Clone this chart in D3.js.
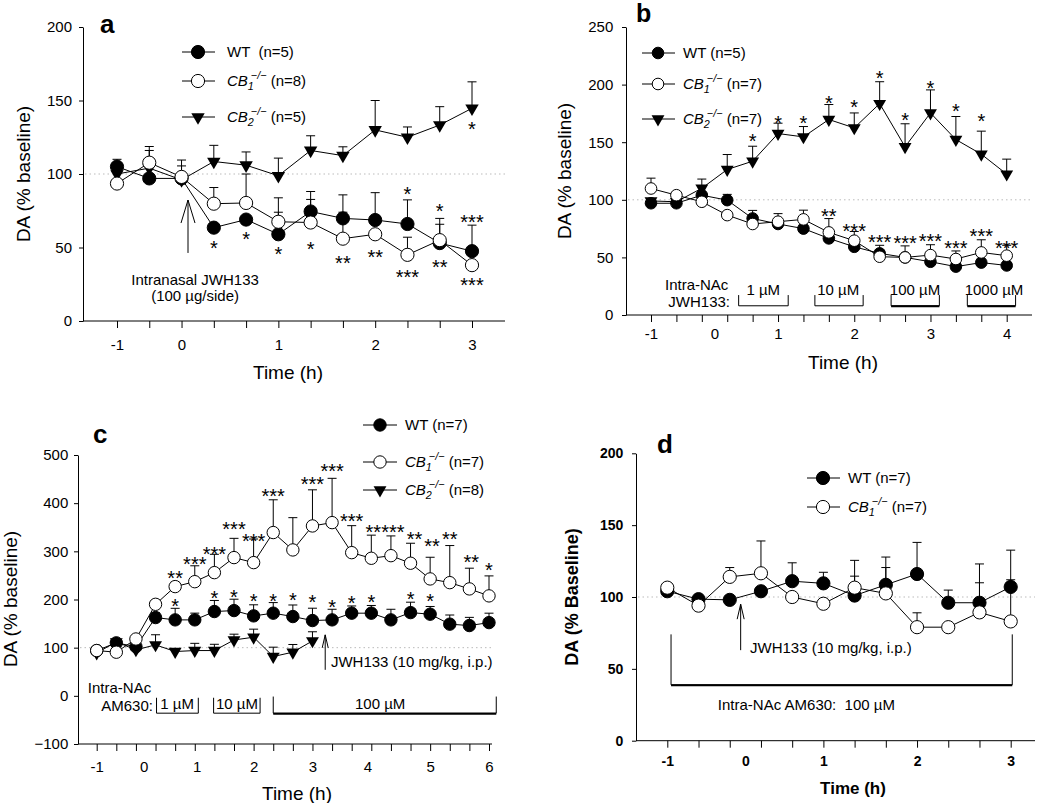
<!DOCTYPE html>
<html><head><meta charset="utf-8">
<script src="https://cdn.jsdelivr.net/npm/d3@7/dist/d3.min.js"></script>
<style>
html,body{margin:0;padding:0;background:#fff;}
svg{display:block;}
text{white-space:pre;}
</style></head>
<body>
<svg id="chart" width="1050" height="803"></svg>
<script>
// ================= DATA =================
// x values are sample indices (20-min samples); tick labels give time (h)
// ---- Panel a ----
const aXTickPos = [0, 2, 5, 8, 11];
const aXTickLabels = ["-1", "0", "1", "2", "3"];
const aYTicks = [0, 50, 100, 150, 200];
const aWT     = [105, 97, 97, 63.5, 69, 59, 74.5, 69.8, 68.7, 66, 53, 47.5];
const aWTerr  = [5, 0, 0, 0, 0, 15, 13.6, 16, 18.6, 16.4, 12.8, 17.7];
const aCB1    = [93.5, 107.7, 98, 79.8, 80.3, 67.5, 67, 56, 59, 45, 55, 38];
const aCB1err = [0, 11, 11.5, 11, 19.7, 16.3, 15.7, 18, 0, 12, 14.8, 0];
const aCB2    = [100, 104, 96, 108.5, 106, 98.8, 116, 112.5, 130, 125, 133.3, 144.7];
const aCB2err = [0, 12, 9.5, 11, 9, 12, 10, 6, 20, 7, 12.5, 18];
const aStars = [[3,52.8,"*"],[4,58.4,"*"],[5,48.3,"*"],[6,52,"*"],[7,42,"**"],[8,46.5,"**"],
  [9,33,"***"],[9,89,"*"],[10,39.7,"**"],[10,77.8,"*"],[11,27.2,"***"],[11,69.9,"***"],[11,133.3,"*"]];
const aLegend = [["WT","  (n=5)"],["CB1"," (n=8)"],["CB2"," (n=5)"]];

// ---- Panel b ----
const bXTickPos = [0, 2.5, 5, 8, 11, 14];
const bXTickLabels = ["-1", "0", "1", "2", "3", "4"];
const bYTicks = [0, 50, 100, 150, 200, 250];
const bWT     = [97, 97, 104, 99.7, 83.8, 79, 75, 66.5, 59.2, 53.5, 50, 46.2, 42, 45.5, 43];
const bWTerr  = [0, 0, 0, 5, 7, 0, 0, 0, 0, 7, 0, 0, 0, 0, 0];
const bCB1    = [109.8, 104, 98.3, 86.7, 79, 81, 83, 71.7, 64.5, 50.6, 50, 52, 48.6, 54.3, 51.5];
const bCB1err = [9, 0, 0, 0, 0, 7, 8, 12, 8, 0, 10, 9, 7, 11, 9];
const bCB2    = [99, 98.3, 110, 126.3, 133.5, 157.5, 154.6, 169.7, 162.4, 183.5, 146, 175.4, 152.3, 139.6, 122.3];
const bCB2err = [0, 0, 8, 13, 13, 9, 9, 13, 13, 19, 20, 20, 20, 20, 13];
const bStars = [[4,154.6,"*"],[5,170.5,"*"],[6,170.5,"*"],[7,187.3,"*"],[8,184,"*"],[9,209,"*"],
  [10,172.5,"*"],[11,200.9,"*"],[12,180.6,"*"],[13,172,"*"],
  [7,89.6,"**"],[8,76.6,"***"],[9,67.3,"***"],[10,66.5,"***"],[11,67.9,"***"],[12,62.1,"***"],[13,72.3,"***"],[14,62.1,"***"]];
const bLegend = [["WT"," (n=5)"],["CB1"," (n=7)"],["CB2"," (n=7)"]];

// ---- Panel c ----
const cXTickPos = [0, 2.4, 5.1, 8, 11, 13.8, 17, 20];
const cXTickLabels = ["-1", "0", "1", "2", "3", "4", "5", "6"];
const cYTicks = [-100, 0, 100, 200, 300, 400, 500];
const cWT     = [94, 110, 102, 162.5, 157.7, 157.7, 175, 177, 166, 171.6, 164.6, 156.3, 157.7, 171.6, 171.6, 157.7, 172.8, 169.5, 148.8, 145.9, 152];
const cWTerr  = [0, 0, 0, 10, 24, 14, 23, 23.6, 23, 22, 24, 25.6, 22, 15, 16, 22, 21.6, 16, 19, 17, 19.6];
const cCB1    = [94, 90.6, 118, 190, 226.8, 237, 255.8, 287, 276.6, 339, 302.9, 352.7, 359.6, 297.3, 285.6, 291, 275.3, 242.7, 235, 222, 207.5];
const cCB1err = [0, 0, 0, 5, 9, 33, 38, 40, 49, 68, 67, 75, 92, 56, 48, 41, 41.5, 45, 77, 43, 41.5];
const cCB2    = [89, 112, 95.4, 105.8, 92, 94, 94, 116, 121.7, 81.6, 90.6, 114];
const cCB2err = [0, 0, 0, 21, 0, 15, 13, 12, 16.7, 19.4, 16, 19];
const cStars = [[4,194.3,"*"],[6,211.6,"*"],[7,214.4,"*"],[8,204.7,"*"],[9,206,"*"],[10,207.5,"*"],[11,202.7,"*"],
  [12,192.3,"*"],[13,200.6,"*"],[14,204,"*"],[16,209.5,"*"],[17,206,"*"],
  [4,253,"**"],[5,282,"***"],[6,303,"***"],[7,354.8,"***"],[8,330.5,"***"],[9,423.9,"***"],[11,448,"***"],
  [12,475.7,"***"],[13,370.7,"***"],[14.1,349,"**"],[15.1,349,"***"],[16.2,334,"**"],[17.1,320,"**"],
  [18,334,"**"],[19.1,285.7,"**"],[20,269.7,"*"]];
const cLegend = [["WT"," (n=7)"],["CB1"," (n=7)"],["CB2"," (n=8)"]];

// ---- Panel d ----
const dXTickPos = [0, 2.5, 5, 8, 11];
const dXTickLabels = ["-1", "0", "1", "2", "3"];
const dYTicks = [0, 50, 100, 150, 200];
const dWT     = [104, 98.5, 98, 104, 111, 109.5, 101, 108.5, 116, 96, 96, 107];
const dWTerr  = [0, 0, 0, 0, 12.8, 7.7, 13.5, 19.3, 22, 8.8, 27, 25.6];
const dCB1    = [106.5, 94, 114, 116.5, 100, 95.3, 106.5, 102.5, 79, 79, 89.3, 83];
const dCB1err = [0, 0, 6.5, 22.5, 0, 0, 19, 18, 10, 0, 20.6, 29];
const dLegend = [["WT"," (n=7)"],["CB1"," (n=7)"]];

// ================= DRAWING =================
const svg = d3.select("#chart");
const FF = "Arial, 'Liberation Sans', Helvetica, sans-serif";

function styleAxis(sel, size, weight) {
  sel.attr("font-family", FF).attr("font-size", size).attr("font-weight", weight);
  sel.selectAll("text").attr("fill", "#000");
  sel.selectAll("line,path").attr("stroke", "#000");
}

function legendText(t, name, rest, size) {
  if (name === "WT") { t.append("tspan").text("WT" + rest); return; }
  t.append("tspan").attr("font-style", "italic").text("CB");
  t.append("tspan").attr("font-style", "italic").attr("font-size", size * 0.72).attr("dy", 4).text(name.slice(2));
  t.append("tspan").attr("font-style", "italic").attr("font-size", size * 0.72).attr("dx", -3).attr("dy", -11).text("\u2212/\u2212");
  t.append("tspan").attr("dy", 7).text(rest);
}

function drawPanel(p) {
  const g = svg.append("g");
  const n = d3.max(p.series, s => s.values.length);
  const x = d3.scaleLinear().domain([0, n - 1]).range(p.xRange);
  const y = d3.scaleLinear().domain(p.yDomain).range(p.yRange);
  const wt = p.bold ? "bold" : "normal";
  const y0 = y(p.yDomain[0]);

  g.append("line").attr("x1", p.axisX + 2).attr("x2", p.axisEnd).attr("y1", y(100)).attr("y2", y(100))
    .attr("stroke", "#bbb").attr("stroke-width", 1).attr("stroke-dasharray", "1.5,3");

  const ya = g.append("g").attr("transform", `translate(${p.axisX},0)`)
    .call(d3.axisLeft(y).tickValues(p.yTicks).tickSize(4).tickSizeOuter(0).tickPadding(p.yPad));
  styleAxis(ya, p.tickFont, wt);

  g.append("line").attr("x1", p.axisX).attr("x2", p.axisEnd).attr("y1", y0).attr("y2", y0).attr("stroke", "#000");
  const xt = g.append("g").attr("transform", `translate(0,${y0})`)
    .call(d3.axisBottom(x).tickValues(d3.range(n)).tickSize(7).tickFormat(""));
  xt.select(".domain").remove();
  styleAxis(xt, p.tickFont, wt);
  const xl = g.append("g").attr("transform", `translate(0,${y0})`)
    .call(d3.axisBottom(x).tickValues(p.xTickPos).tickFormat((d, i) => p.xTickLabels[i]).tickSize(0).tickPadding(p.xPad));
  xl.select(".domain").remove();
  xl.selectAll(".tick line").remove();
  styleAxis(xl, p.tickFont, wt);

  // titles
  g.append("text").attr("transform", `translate(${p.yTitle[0]},${p.yTitle[1]}) rotate(-90)`)
    .attr("text-anchor", "middle").attr("dy", "0.35em").attr("font-family", FF)
    .attr("font-size", p.yTitleSize).attr("font-weight", wt).text(p.yTitleText);
  g.append("text").attr("x", p.xTitle[0]).attr("y", p.xTitle[1]).attr("dy", "0.35em").attr("text-anchor", "middle")
    .attr("font-family", FF).attr("font-size", p.xTitleSize).attr("font-weight", wt).text("Time (h)");
  g.append("text").attr("x", p.letter[0]).attr("y", p.letter[1]).attr("font-family", FF)
    .attr("font-size", p.letterSize || 26).attr("font-weight", "bold").text(p.letterText);

  // annotations: brackets [i0, i1, vTop, vBottom, thick]
  (p.brackets || []).forEach(b => {
    g.append("path").attr("d", `M${x(b[0])},${y(b[2])}V${y(b[3])}H${x(b[1])}V${y(b[2])}`)
      .attr("fill", "none").attr("stroke", "#000").attr("stroke-width", 1);
    if (b[4]) g.append("line").attr("x1", x(b[0])).attr("x2", x(b[1])).attr("y1", y(b[3]) + 0.5).attr("y2", y(b[3]) + 0.5)
      .attr("stroke", "#000").attr("stroke-width", 2);
  });
  // arrows [i, vBottom, vTip, wing half-width, wing length]
  (p.arrows || []).forEach(a => {
    const ax = x(a[0]), yb = y(a[1]), yt = y(a[2]);
    g.append("path").attr("d", `M${ax},${yb}V${yt}M${ax - a[3]},${yt + a[4]}L${ax},${yt}L${ax + a[3]},${yt + a[4]}`)
      .attr("fill", "none").attr("stroke", "#000").attr("stroke-width", 1);
  });
  (p.texts || []).forEach(t => {
    g.append("text").attr("x", x(t[0])).attr("y", y(t[1])).attr("dy", "0.35em").attr("text-anchor", t[3])
      .attr("font-family", FF).attr("font-size", 15).text(t[2]);
  });

  // error bars (upper SEM)
  p.series.forEach(s => {
    const pts = s.values.map((v, i) => ({ i, v, e: s.errors[i] })).filter(d => d.e > 0);
    const eg = g.append("g").attr("stroke", "#000").attr("stroke-width", 1);
    eg.selectAll("line.v").data(pts).join("line").attr("class", "v")
      .attr("x1", d => x(d.i)).attr("x2", d => x(d.i)).attr("y1", d => y(d.v)).attr("y2", d => y(d.v + d.e));
    eg.selectAll("line.c").data(pts).join("line").attr("class", "c")
      .attr("x1", d => x(d.i) - 4.5).attr("x2", d => x(d.i) + 4.5).attr("y1", d => y(d.v + d.e)).attr("y2", d => y(d.v + d.e));
  });
  // lines
  const line = d3.line().x((d, i) => x(i)).y(d => y(d));
  p.series.forEach(s => {
    g.append("path").attr("d", line(s.values)).attr("fill", "none").attr("stroke", "#000").attr("stroke-width", 1);
  });
  // markers
  p.series.forEach(s => {
    const mg = g.append("g");
    if (s.shape === "tri") {
      mg.selectAll("path").data(s.values).join("path")
        .attr("d", d3.symbol(d3.symbolTriangle, p.triSize))
        .attr("transform", (d, i) => `translate(${x(i)},${y(d)}) rotate(180)`).attr("fill", "#000");
    } else {
      mg.selectAll("circle").data(s.values).join("circle")
        .attr("cx", (d, i) => x(i)).attr("cy", d => y(d)).attr("r", p.r)
        .attr("fill", s.shape === "open" ? "#fff" : "#000").attr("stroke", "#000").attr("stroke-width", 1);
    }
  });
  // significance stars
  g.append("g").selectAll("text").data(p.stars).join("text")
    .attr("x", d => x(d[0])).attr("y", d => y(d[1])).attr("dy", "0.56em").attr("text-anchor", "middle")
    .attr("font-family", FF).attr("font-size", 20).text(d => d[2]);

  // legend
  p.legend.forEach((L, k) => {
    const ry = p.legendRows[k];
    const s = p.series.find(ss => ss.name === L[0]);
    g.append("line").attr("x1", p.legendLine[0]).attr("x2", p.legendLine[1]).attr("y1", ry).attr("y2", ry).attr("stroke", "#000");
    if (s.shape === "tri") {
      g.append("path").attr("d", d3.symbol(d3.symbolTriangle, p.triSize))
        .attr("transform", `translate(${p.legendMarker},${ry}) rotate(180)`).attr("fill", "#000");
    } else {
      g.append("circle").attr("cx", p.legendMarker).attr("cy", ry).attr("r", p.r)
        .attr("fill", s.shape === "open" ? "#fff" : "#000").attr("stroke", "#000");
    }
    const t = g.append("text").attr("x", p.legendText).attr("y", ry).attr("dy", "0.35em")
      .attr("font-family", FF).attr("font-size", 15);
    legendText(t, L[0], L[1], 15);
  });
}

drawPanel({
  letterText: "a", letter: [100, 33],
  series: [
    { name: "CB2", shape: "tri", values: aCB2, errors: aCB2err },
    { name: "WT", shape: "filled", values: aWT, errors: aWTerr },
    { name: "CB1", shape: "open", values: aCB1, errors: aCB1err }],
  xRange: [117, 472], yDomain: [0, 200], yRange: [321, 27], axisX: 83, axisEnd: 505,
  yTicks: aYTicks, xTickPos: aXTickPos, xTickLabels: aXTickLabels, yPad: 7, xPad: 18.5, tickFont: 15,
  r: 6.6, triSize: 78, stars: aStars,
  yTitle: [23, 174], yTitleText: "DA (% baseline)", yTitleSize: 19, xTitle: [288, 372], xTitleSize: 19,
  legend: aLegend, legendRows: [52, 81, 117], legendLine: [182, 215], legendMarker: 198, legendText: 227,
  arrows: [[2.2, 46.3, 82.3, 7, 23]],
  texts: [[2.42, 27.9, "Intranasal JWH133", "middle"], [2.42, 17, "(100 \u00b5g/side)", "middle"]]
});

drawPanel({
  letterText: "b", letter: [636, 22], letterSize: 25,
  series: [
    { name: "CB2", shape: "tri", values: bCB2, errors: bCB2err },
    { name: "WT", shape: "filled", values: bWT, errors: bWTerr },
    { name: "CB1", shape: "open", values: bCB1, errors: bCB1err }],
  xRange: [651, 1006.7], yDomain: [0, 250], yRange: [315, 27], axisX: 626, axisEnd: 1032,
  yTicks: bYTicks, xTickPos: bXTickPos, xTickLabels: bXTickLabels, yPad: 8.7, xPad: 13.6, tickFont: 15,
  r: 5.8, triSize: 72, stars: bStars,
  yTitle: [564, 171], yTitleText: "DA (% baseline)", yTitleSize: 19, xTitle: [843, 362], xTitleSize: 19,
  legend: bLegend, legendRows: [53, 84, 119], legendLine: [642, 675], legendMarker: 658, legendText: 683,
  brackets: [[3.45, 5.4, 17.3, 8, false], [6.45, 8.35, 17.3, 8, false], [9.45, 11.35, 17.3, 8, true], [12.45, 14.35, 17.3, 8, true]],
  texts: [[0.55, 26, "Intra-NAc", "start"], [3.11, 11.5, "JWH133:", "end"],
    [4.42, 21.7, "1 \u00b5M", "middle"], [7.37, 21.7, "10 \u00b5M", "middle"],
    [10.39, 21.7, "100 \u00b5M", "middle"], [13.5, 21.7, "1000 \u00b5M", "middle"]]
});

drawPanel({
  letterText: "c", letter: [93, 443],
  series: [
    { name: "CB2", shape: "tri", values: cCB2, errors: cCB2err },
    { name: "WT", shape: "filled", values: cWT, errors: cWTerr },
    { name: "CB1", shape: "open", values: cCB1, errors: cCB1err }],
  xRange: [96.7, 489], yDomain: [-100, 500], yRange: [744, 455], axisX: 78, axisEnd: 492,
  yTicks: cYTicks, xTickPos: cXTickPos, xTickLabels: cXTickLabels, yPad: 5.7, xPad: 17.6, tickFont: 15,
  r: 6.2, triSize: 72, stars: cStars,
  yTitle: [10, 599], yTitleText: "DA (% baseline)", yTitleSize: 19, xTitle: [297, 793], xTitleSize: 19,
  legend: cLegend, legendRows: [425, 462, 490], legendLine: [363, 397], legendMarker: 380, legendText: 405,
  brackets: [[3.05, 5.18, -4, -36, false], [5.96, 8.33, -4, -36, false], [9.0, 20.37, -1.5, -36, true]],
  arrows: [[11.65, 54, 126.6, 3, 13]],
  texts: [[-0.45, 16, "Intra-NAc", "start"], [2.87, -21, "AM630:", "end"],
    [4.1, -16, "1 \u00b5M", "middle"], [7.15, -16, "10 \u00b5M", "middle"], [14.45, -16, "100 \u00b5M", "middle"],
    [11.94, 71.2, "JWH133 (10 mg/kg, i.p.)", "start"]]
});

drawPanel({
  letterText: "d", letter: [657, 453], bold: true,
  series: [
    { name: "WT", shape: "filled", values: dWT, errors: dWTerr },
    { name: "CB1", shape: "open", values: dCB1, errors: dCB1err }],
  xRange: [667.3, 1010.7], yDomain: [0, 200], yRange: [740.7, 453.3], axisX: 636, axisEnd: 1035,
  yTicks: dYTicks, xTickPos: dXTickPos, xTickLabels: dXTickLabels, yPad: 8.7, xPad: 15, tickFont: 14,
  r: 6.6, triSize: 72, stars: [],
  yTitle: [572, 597], yTitleText: "DA (% Baseline)", yTitleSize: 18, xTitle: [853, 788], xTitleSize: 17,
  legend: dLegend, legendRows: [478, 507], legendLine: [807, 840], legendMarker: 823, legendText: 848,
  brackets: [[0.12, 11.05, 74, 38.9, true]],
  arrows: [[2.35, 63, 95, 3.5, 15]],
  texts: [[1.62, 24.9, "Intra-NAc AM630:  100 \u00b5M", "start"], [2.65, 64.5, "JWH133 (10 mg/kg, i.p.)", "start"]]
});
</script>
</body></html>
